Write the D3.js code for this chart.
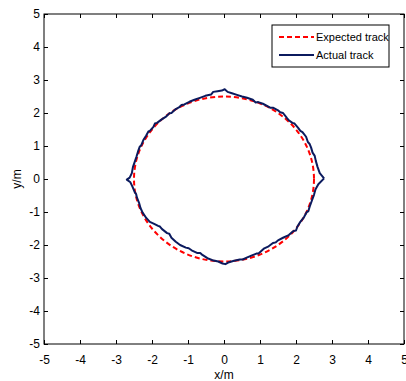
<!DOCTYPE html>
<html>
<head>
    <meta charset="UTF-8">
    <title>Track</title>
    <style>
        body { margin: 0; background-color: #FFFFFF; }
        svg { background-color: #FFFFFF; font-family: Arial, "Liberation Sans", sans-serif; }
    </style>
</head>
<body>
    <div id="graph-container"></div>
    <script src="https://cdn.jsdelivr.net/npm/d3@7"></script>
    <script>
        // axis ticks
        let xTicks = [-5, -4, -3, -2, -1, 0, 1, 2, 3, 4, 5];
        let yTicks = [-5, -4, -3, -2, -1, 0, 1, 2, 3, 4, 5];

        // expected track: circle centre and radius
        let expectedCenter = [0, 0];
        let expectedRadius = 2.5;

        // actual track
        let actualX = [2.78, 2.66, 2.60, 2.55, 2.52, 2.46, 2.42, 2.38, 2.33, 2.28, 2.18, 2.12, 2.06, 1.96, 1.90, 1.80, 1.74, 1.64, 1.56, 1.50, 1.36, 1.28, 1.22, 1.08, 0.95, 0.88, 0.80,
            0.64, 0.50, 0.36, 0.22, 0.10, 0.02, -0.06, -0.18, -0.30, -0.36, -0.52, -0.67, -0.82, -0.96, -1.10, -1.18, -1.24, -1.34, -1.46, -1.52, -1.60, -1.74,
            -1.86, -1.92, -1.96, -2.06, -2.10, -2.16, -2.24, -2.30, -2.34, -2.38, -2.43, -2.48, -2.53, -2.56, -2.62, -2.70, -2.60, -2.54, -2.48, -2.44, -2.42, -2.36, -2.32, -2.26,
            -2.16, -2.06, -1.94, -1.83, -1.78, -1.72, -1.58, -1.52, -1.46, -1.34, -1.22, -1.06, -0.98, -0.90, -0.75, -0.66, -0.60, -0.46, -0.32, -0.16, -0.04, 0.04, 0.14, 0.28,
            0.44, 0.52, 0.60, 0.76, 0.90, 0.96, 1.02, 1.12, 1.24, 1.36, 1.44, 1.50, 1.64, 1.80, 1.92, 2.00, 2.04, 2.12, 2.22, 2.30, 2.34, 2.38, 2.44, 2.50, 2.54, 2.62, 2.78];
        let actualY = [0.02, 0.18, 0.36, 0.55, 0.70, 0.80, 0.95, 1.06, 1.12, 1.28, 1.42, 1.46, 1.55, 1.68, 1.70, 1.78, 1.86, 2.00, 2.02, 2.08, 2.16, 2.16, 2.20, 2.28, 2.33, 2.32, 2.40,
            2.46, 2.50, 2.55, 2.60, 2.64, 2.72, 2.68, 2.66, 2.64, 2.56, 2.52, 2.46, 2.40, 2.34, 2.26, 2.24, 2.18, 2.12, 2.00, 1.99, 1.90, 1.80,
            1.70, 1.68, 1.58, 1.46, 1.44, 1.32, 1.18, 1.02, 0.98, 0.86, 0.68, 0.52, 0.36, 0.18, 0.04, -0.02, -0.10, -0.24, -0.40, -0.46, -0.56, -0.72, -0.88, -1.02,
            -1.18, -1.30, -1.36, -1.42, -1.44, -1.52, -1.64, -1.66, -1.78, -1.90, -2.00, -2.08, -2.10, -2.16, -2.24, -2.24, -2.30, -2.40, -2.46, -2.50, -2.56, -2.58, -2.52, -2.48,
            -2.44, -2.44, -2.40, -2.32, -2.26, -2.26, -2.20, -2.10, -2.04, -1.94, -1.92, -1.86, -1.78, -1.70, -1.58, -1.56, -1.44, -1.30, -1.16, -1.00, -0.98, -0.84, -0.66, -0.48, -0.32, -0.16, 0.02];

        let legendLabels = ["Expected track", "Actual track"];

        let margin = { top: 14, right: 2, bottom: 37, left: 44 },
            width = 406 - margin.left - margin.right,
            height = 381 - margin.top - margin.bottom;

        let x = d3.scaleLinear().domain([-5, 5]).range([0, width]);
        let y = d3.scaleLinear().domain([-5, 5]).range([height, 0]);

        let root = d3.select("#graph-container").append("svg")
            .attr("width", 406)
            .attr("height", 381);
        let svg = root.append("g")
            .attr("transform", "translate(" + margin.left + "," + margin.top + ")");

        // expected track (dashed circle)
        svg.append("ellipse")
            .attr("cx", x(expectedCenter[0]))
            .attr("cy", y(expectedCenter[1]))
            .attr("rx", x(expectedRadius) - x(0))
            .attr("ry", y(0) - y(expectedRadius))
            .attr("fill", "none")
            .attr("stroke", "#ff0000")
            .attr("stroke-width", 2)
            .attr("stroke-dasharray", "5,3");

        // actual track
        let pts = actualX.map((v, i) => [v, actualY[i]]);
        svg.append("path")
            .datum(pts)
            .attr("fill", "none")
            .attr("stroke", "#0b1a5e")
            .attr("stroke-width", 2)
            .attr("stroke-linejoin", "round")
            .attr("d", d3.line().x(d => x(d[0])).y(d => y(d[1])));

        // axes, ticks pointing inwards, plain hyphen for negatives
        let fmt = d => String(d);
        svg.append("g")
            .attr("transform", "translate(0," + height + ")")
            .call(d3.axisBottom(x).tickValues(xTicks).tickSizeInner(-4).tickSizeOuter(0).tickPadding(11).tickFormat(fmt));
        svg.append("g")
            .call(d3.axisLeft(y).tickValues(yTicks).tickSizeInner(-4).tickSizeOuter(0).tickPadding(4).tickFormat(fmt));
        svg.append("g")
            .call(d3.axisTop(x).tickValues(xTicks).tickSizeInner(-4).tickSizeOuter(0).tickFormat(""));
        svg.append("g")
            .attr("transform", "translate(" + width + ",0)")
            .call(d3.axisRight(y).tickValues(yTicks).tickSizeInner(-4).tickSizeOuter(0).tickFormat(""));

        svg.selectAll(".domain").remove();
        svg.selectAll(".tick line").attr("stroke", "#000");
        svg.selectAll(".tick text")
            .attr("fill", "#000")
            .style("font-size", "12px")
            .style("font-family", "Arial, 'Liberation Sans', sans-serif");

        svg.append("rect")
            .attr("width", width)
            .attr("height", height)
            .attr("fill", "none")
            .attr("stroke", "#000")
            .attr("stroke-width", 1);

        // axis titles
        root.append("text")
            .attr("x", margin.left + x(0))
            .attr("y", 379)
            .attr("text-anchor", "middle")
            .style("font-size", "12px")
            .text("x/m");
        root.append("text")
            .attr("transform", "translate(21," + (margin.top + y(0)) + ") rotate(-90)")
            .attr("text-anchor", "middle")
            .style("font-size", "12px")
            .text("y/m");

        // legend
        let legend = root.append("g").attr("transform", "translate(272,25)");
        legend.append("rect")
            .attr("width", 117)
            .attr("height", 42)
            .attr("fill", "#fff")
            .attr("stroke", "#000")
            .attr("stroke-width", 1);
        let legendColors = ["#ff0000", "#0b1a5e"];
        let legendDash = ["5,3", null];
        legendLabels.forEach((lab, i) => {
            let ly = 12 + i * 18;
            legend.append("line")
                .attr("x1", 7).attr("x2", 42)
                .attr("y1", ly).attr("y2", ly)
                .attr("stroke", legendColors[i])
                .attr("stroke-width", 2)
                .attr("stroke-dasharray", legendDash[i]);
            legend.append("text")
                .attr("x", 44)
                .attr("y", ly + 4)
                .style("font-size", "11px")
                .text(lab);
        });
    </script>
</body>
</html>
